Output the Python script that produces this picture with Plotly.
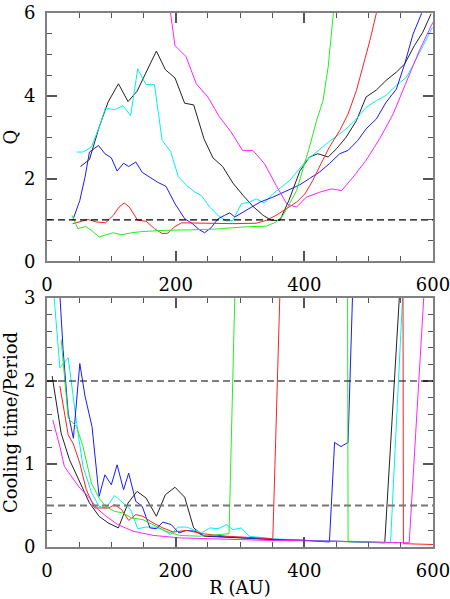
import plotly.graph_objects as go
from plotly.subplots import make_subplots

# ---- top panel: Toomre Q vs radius ----
q_black_r = [52, 66, 81, 95, 111, 126, 140, 154, 170, 184, 199, 214, 228, 244, 258, 273, 289, 305, 320, 336,
             349, 362, 376, 393, 408, 421, 437, 450, 465, 481, 496, 512, 527, 543, 556, 571, 584, 597]
q_black = [2.29, 2.46, 3.24, 3.85, 4.29, 3.86, 4.11, 4.57, 5.08, 4.63, 4.43, 3.82, 3.78, 2.96, 2.50, 2.29, 1.89,
           1.59, 1.33, 1.11, 0.99, 0.99, 1.47, 2.18, 2.52, 2.60, 2.52, 2.72, 3.00, 3.40, 3.97, 4.14, 4.37, 4.57,
           4.77, 5.21, 5.53, 5.98]

q_cyan_r = [46, 56, 69, 81, 91, 105, 118, 130, 141, 154, 167, 179, 192, 204, 217, 230, 240, 253, 266, 279, 289,
            302, 315, 325, 338, 351, 364, 377, 390, 403, 419, 434, 450, 465, 481, 496, 512, 527, 543, 559, 574,
            587, 599]
q_cyan = [2.64, 2.64, 2.76, 3.24, 3.71, 3.66, 3.76, 3.52, 4.65, 4.27, 4.27, 2.92, 2.66, 2.05, 1.83, 1.67, 1.59,
          1.31, 1.11, 0.97, 0.99, 1.39, 1.43, 1.51, 1.41, 1.63, 1.79, 1.95, 2.19, 2.44, 2.64, 2.84, 3.02, 3.20,
          3.44, 3.72, 3.88, 4.01, 4.25, 4.45, 4.89, 5.29, 5.65]

q_blue_r = [40, 51, 59, 66, 80, 90, 100, 109, 119, 127, 138, 148, 160, 172, 185, 199, 214, 226, 237, 245, 255,
            266, 276, 284, 292, 310, 331, 351, 372, 393, 408, 424, 439, 455, 468, 483, 496, 512, 527, 543, 556,
            569, 582, 590]
q_blue = [0.99, 1.47, 2.03, 2.64, 2.80, 2.60, 2.50, 2.18, 2.37, 2.29, 2.40, 2.15, 2.03, 1.91, 1.81, 1.39, 1.03,
          0.91, 0.76, 0.69, 0.81, 1.03, 1.11, 1.17, 1.07, 1.23, 1.43, 1.55, 1.71, 1.85, 2.00, 2.16, 2.36, 2.60,
          2.68, 2.92, 3.20, 3.44, 3.84, 4.16, 4.77, 5.49, 5.98, 6.6]

q_red_r = [40, 51, 64, 77, 91, 103, 112, 120, 128, 141, 154, 167, 179, 188, 198, 209, 237, 289, 325, 341, 356,
           372, 388, 401, 413, 426, 439, 455, 468, 481, 491, 502, 512, 520]
q_red = [0.91, 0.95, 1.01, 0.95, 0.93, 1.11, 1.31, 1.41, 1.31, 0.99, 0.97, 0.79, 0.67, 0.68, 0.83, 0.93, 0.92,
         0.91, 0.92, 0.99, 1.11, 1.27, 1.43, 1.63, 1.95, 2.36, 2.76, 3.16, 3.56, 4.13, 4.69, 5.34, 6.0, 7.0]

q_green_r = [39, 48, 60, 69, 81, 90, 103, 116, 131, 149, 185, 222, 263, 305, 341, 356, 367, 377, 388, 398, 408,
             419, 429, 437, 445, 452]
q_green = [1.11, 0.79, 0.84, 0.75, 0.59, 0.63, 0.69, 0.64, 0.69, 0.72, 0.75, 0.76, 0.78, 0.83, 0.85, 0.95, 1.11,
           1.39, 1.71, 2.24, 2.76, 3.40, 3.88, 4.69, 5.97, 8.0]

q_magenta_r = [185, 199, 216, 232, 250, 268, 286, 304, 320, 338, 356, 373, 388, 403, 424, 442, 458, 476, 496,
               517, 538, 559, 579, 600]
q_magenta = [6.8, 5.21, 4.95, 4.29, 3.97, 3.49, 3.13, 2.68, 2.68, 2.36, 1.84, 1.38, 1.31, 1.55, 1.67, 1.75, 1.71,
             2.04, 2.44, 2.96, 3.56, 4.37, 5.10, 5.78]

# ---- bottom panel: cooling time / orbital period ----
c_black_r = [8, 15, 22, 35, 51, 66, 81, 95, 111, 126, 140, 154, 170, 184, 199, 214, 228, 244, 300, 350, 400,
             450, 500, 525, 548, 556]
c_black = [2.06, 1.69, 1.37, 1.05, 0.78, 0.53, 0.37, 0.29, 0.23, 0.53, 0.67, 0.59, 0.37, 0.63, 0.72, 0.60, 0.23,
           0.13, 0.11, 0.09, 0.08, 0.07, 0.06, 0.05, 3.05, 20]

c_cyan_r = [8, 20, 33, 46, 56, 69, 81, 92, 105, 118, 130, 141, 154, 167, 179, 192, 204, 217, 230, 240, 253, 266,
            279, 289, 302, 314, 350, 400, 450, 500, 534, 553, 560]
c_cyan = [3.3, 2.16, 2.28, 1.49, 0.97, 0.66, 0.49, 0.47, 0.62, 0.53, 0.45, 0.22, 0.24, 0.24, 0.21, 0.15, 0.24,
          0.24, 0.20, 0.17, 0.23, 0.22, 0.27, 0.21, 0.23, 0.13, 0.10, 0.08, 0.07, 0.06, 0.05, 3.05, 20]

c_blue_r = [18, 25, 33, 41, 51, 59, 70, 81, 90, 100, 109, 119, 127, 138, 148, 160, 170, 180, 193, 205, 217, 230,
            242, 300, 350, 400, 439, 447, 457, 468, 475, 482]
c_blue = [3.3, 2.38, 1.61, 1.31, 2.21, 1.82, 1.45, 0.61, 0.87, 0.75, 0.99, 0.69, 0.89, 0.55, 0.49, 0.23, 0.22,
          0.30, 0.27, 0.17, 0.20, 0.19, 0.14, 0.11, 0.09, 0.08, 0.06, 1.26, 1.21, 1.26, 3.05, 20]

c_red_r = [20, 27, 33, 41, 51, 61, 74, 84, 96, 105, 116, 127, 138, 149, 165, 180, 196, 217, 242, 279, 320, 351,
           362, 400, 550, 554, 600]
c_red = [1.94, 1.63, 1.35, 1.24, 1.01, 0.69, 0.47, 0.47, 0.47, 0.51, 0.45, 0.32, 0.39, 0.37, 0.29, 0.23, 0.18,
         0.20, 0.16, 0.13, 0.11, 0.10, 3.05, 20, 20, 0.04, 0.03]

c_green_r = [22, 33, 46, 56, 69, 81, 91, 105, 118, 131, 149, 165, 185, 206, 237, 283, 292, 350, 463, 468, 500,
             545]
c_green = [2.50, 1.55, 1.45, 1.21, 0.77, 0.59, 0.49, 0.43, 0.41, 0.35, 0.33, 0.27, 0.19, 0.14, 0.13, 0.16, 3.05,
           20, 20, 0.07, 0.06, 0.05]

c_magenta_r = [9, 20, 27, 38, 51, 64, 77, 92, 110, 134, 165, 206, 258, 341, 445, 563, 586, 592]
c_magenta = [1.53, 1.21, 0.97, 0.85, 0.71, 0.61, 0.47, 0.37, 0.27, 0.19, 0.14, 0.11, 0.10, 0.08, 0.07, 0.05,
             3.05, 20]

q_ref = 1.0
cool_refs = [2.0, 0.5]

top_series = [(q_black_r, q_black, "#222222"), (q_cyan_r, q_cyan, "#00f0f0"), (q_blue_r, q_blue, "#1a1aff"),
              (q_red_r, q_red, "#ff2020"), (q_green_r, q_green, "#22ee22"), (q_magenta_r, q_magenta, "#ff22ff")]
bottom_series = [(c_black_r, c_black, "#222222"), (c_cyan_r, c_cyan, "#00f0f0"), (c_blue_r, c_blue, "#1a1aff"),
                 (c_red_r, c_red, "#ff2020"), (c_green_r, c_green, "#22ee22"),
                 (c_magenta_r, c_magenta, "#ff22ff")]

fig = make_subplots(rows=2, cols=1)

for r, v, c in top_series:
    fig.add_trace(go.Scatter(x=r, y=v, mode="lines", line=dict(color=c, width=1), showlegend=False), row=1, col=1)
for r, v, c in bottom_series:
    fig.add_trace(go.Scatter(x=r, y=v, mode="lines", line=dict(color=c, width=1), showlegend=False), row=2, col=1)

# dashed reference levels
fig.add_hline(y=q_ref, line=dict(color="black", width=1.2, dash="7px,4px"), row=1, col=1)
fig.add_hline(y=cool_refs[0], line=dict(color="black", width=1.2, dash="7px,4px"), row=2, col=1)
fig.add_hline(y=cool_refs[1], line=dict(color="#777777", width=2, dash="7px,4px"), row=2, col=1)

font = dict(family="DejaVu Serif", size=18, color="black")
axis_style = dict(showline=True, linecolor="#808080", linewidth=2, mirror="allticks", ticks="inside",
                  ticklen=10, tickwidth=1.5, tickcolor="#555555", showgrid=False, zeroline=False,
                  tickfont=font, ticklabelstandoff=6, automargin=False, ticklabeloverflow="allow")

fig.update_xaxes(range=[0, 600], dtick=200,
                 minor=dict(dtick=50, ticks="inside", ticklen=5, tickcolor="#555555", tickwidth=1.2),
                 **axis_style)
fig.update_yaxes(**axis_style)

fig.update_yaxes(range=[0, 6], dtick=2, domain=[0.535, 1.0],
                 minor=dict(dtick=0.5, ticks="inside", ticklen=5, tickcolor="#555555", tickwidth=1.2),
                 title=dict(text="Q", font=font, standoff=4), row=1, col=1)
fig.update_yaxes(range=[0, 3], dtick=1, domain=[0.0, 0.4663],
                 minor=dict(dtick=0.2, ticks="inside", ticklen=5, tickcolor="#555555", tickwidth=1.2),
                 title=dict(text="Cooling time/Period", font=font, standoff=4), row=2, col=1)
fig.update_xaxes(title=dict(text="R (AU)", font=font, standoff=2), row=2, col=1)

fig.update_layout(width=450, height=599, margin=dict(l=47, r=17, t=13, b=52),
                  plot_bgcolor="white", paper_bgcolor="white", font=font)

fig.write_html("out.html", config={"displayModeBar": False},
               post_script="document.body.style.margin='0';document.body.style.overflow='hidden';")
